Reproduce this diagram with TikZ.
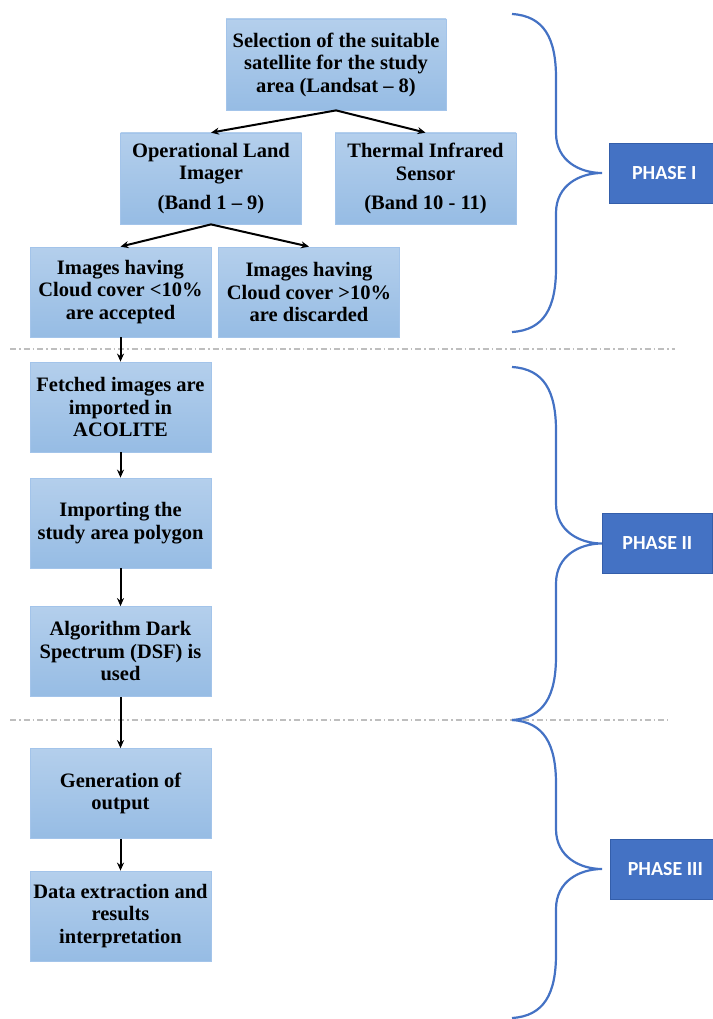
\documentclass[tikz,border=0pt]{standalone}
\usepackage{fontspec}
\setmainfont{Liberation Serif}
\newfontfamily\phasefont{Carlito}
\usetikzlibrary{
    positioning,
    arrows.meta
    }

\definecolor{boxtop}{RGB}{180,207,236}
\definecolor{boxbottom}{RGB}{150,188,228}
\definecolor{boxedge}{RGB}{163,196,234}
\definecolor{phaseblue}{RGB}{68,114,196}
\definecolor{phaseedge}{RGB}{52,94,170}
\definecolor{sepgray}{RGB}{190,190,190}

\begin{document}
\begin{tikzpicture}[x=1pt, y=-1pt]
\tikzset{stepbox/.style =
        {
            rectangle,
            top color=boxtop,
            bottom color=boxbottom,
            draw=boxedge,
            line width=0.8pt,
            minimum width=181pt,
            minimum height=90pt,
            inner sep=1pt,
            align=center,
            font=\bfseries\fontsize{20.5}{22.5}\selectfont
        }
}

\tikzset{phasebox/.style =
        {
            rectangle,
            fill=phaseblue,
            draw=phaseedge,
            line width=0.6pt,
            minimum width=110pt,
            minimum height=60pt,
            anchor=west,
            text=white,
            font=\phasefont\bfseries\fontsize{20}{24}\selectfont
        }
}

\tikzset{flow/.style = {
            line width=2pt,
            -{Stealth[length=8pt, width=7pt]}
        }
}

\tikzset{separator/.style = {
            line width=1.2pt,
            sepgray,
            dash pattern=on 6pt off 3pt on 1.5pt off 3pt
        }
}

\tikzset{pics/phase brace/.style = {
            code = {
                    \draw [line width=2.2pt, phaseblue]
                    (0,0) .. controls (32,2) and (44,24) .. (44,64)
                    -- (44,{#1/2-40}) .. controls (44,{#1/2-12}) and (68,{#1/2}) .. (90,{#1/2})
                    .. controls (68,{#1/2}) and (44,{#1/2+12}) .. (44,{#1/2+40})
                    -- (44,{#1-64}) .. controls (44,{#1-24}) and (32,{#1-2}) .. (0,#1);
                }
        }
}

\useasboundingbox (0,0) rectangle (712,1019);

% phase I
\node[stepbox, minimum width=220pt, minimum height=91pt] (sel) at (336,64.5)
    {Selection of the suitable\\satellite for the study\\area (Landsat -- 8)};
\node[stepbox, minimum height=91pt] (oli) at (211,178.5)
    {Operational Land\\Imager\\[7pt](Band 1 -- 9)};
\node[stepbox, minimum height=91pt] (tirs) at (425.5,178.5)
    {Thermal Infrared\\Sensor\\[7pt](Band 10 - 11)};
\node[stepbox] (accept) at (120.5,292)
    {Images having\\Cloud cover <10\%\\are accepted};
\node[stepbox] (discard) at (309,292)
    {Images having\\Cloud cover >10\%\\are discarded};

% phase II
\node[stepbox] (fetch) at (120.5,407)
    {Fetched images are\\imported in\\ACOLITE};
\node[stepbox] (polygon) at (120.5,523)
    {Importing the\\study area polygon};
\node[stepbox] (dsf) at (120.5,651.5)
    {Algorithm Dark\\Spectrum (DSF) is\\used};

% phase III
\node[stepbox] (output) at (120.5,793.5)
    {Generation of\\output};
\node[stepbox] (extract) at (120.5,916)
    {Data extraction and\\results\\interpretation};

\draw [separator] (10,349) -- (675,349);
\draw [separator] (10,720) -- (668,720);

\foreach \start / \finish in
    {sel/oli,
        sel/tirs,
        oli/accept,
        oli/discard,
        accept/fetch,
        fetch/polygon,
        polygon/dsf,
        dsf/output,
        output/extract}
    {
        \draw [flow] (\start.south) -- (\finish.north);
    }

\foreach \top / \height / \name / \label / \boxx in
    {14/318/phase1/PHASE I/609,
        367/353/phase2/PHASE II/602,
        720/298/phase3/PHASE III/610}
    {
        \pic at (512,\top) {phase brace=\height};
        \node[phasebox] (\name) at (\boxx,{\top+\height/2}) {\label};
    }

\end{tikzpicture}
\end{document}
